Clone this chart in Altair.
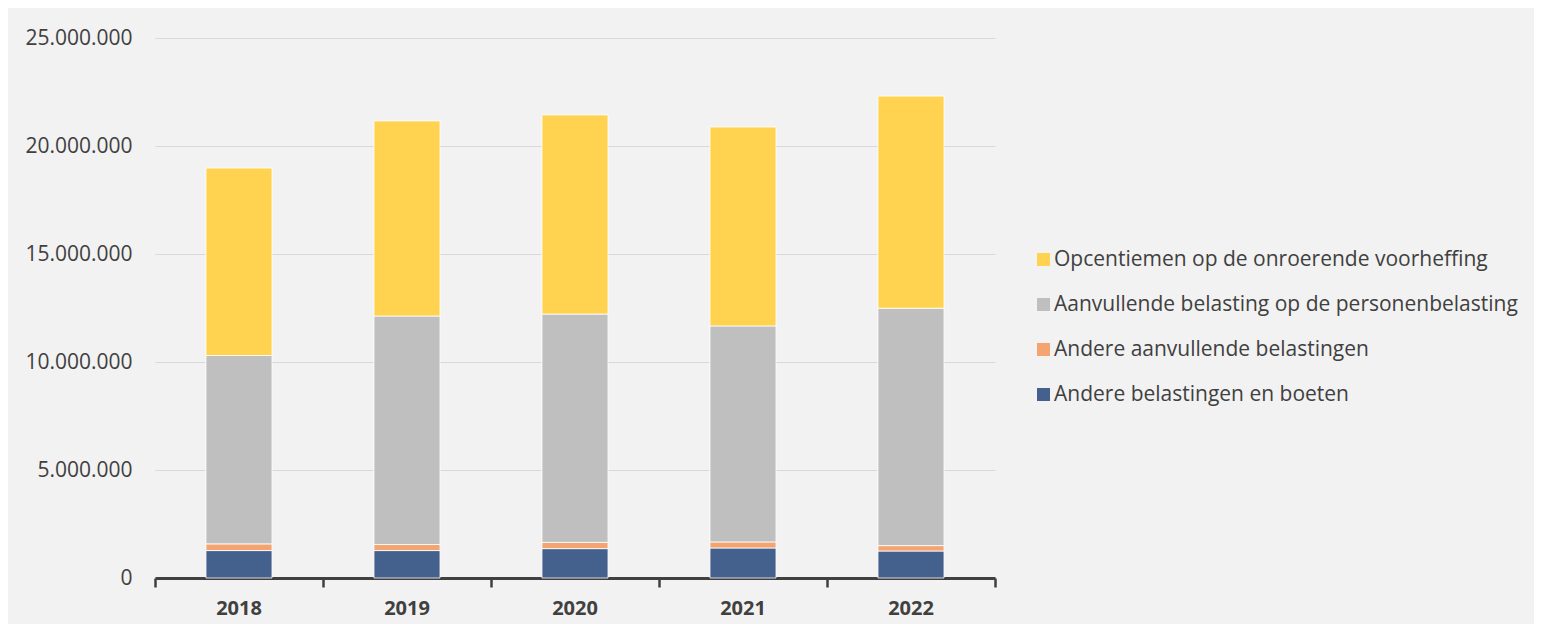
import altair as alt
import pandas as pd

years = ["2018", "2019", "2020", "2021", "2022"]
series = [
    "Andere belastingen en boeten",
    "Andere aanvullende belastingen",
    "Aanvullende belasting op de personenbelasting",
    "Opcentiemen op de onroerende voorheffing",
]
boeten = [1270000, 1270000, 1360000, 1390000, 1250000]
andere_aanv = [310000, 280000, 290000, 280000, 250000]
personen = [8720000, 10580000, 10570000, 10000000, 10990000]
opcentiemen = [8680000, 9030000, 9220000, 9210000, 9820000]
colors = ["#44608C", "#F4A470", "#BFBFBF", "#FFD34F"]
band_edges = [0, 1, 2, 3, 4, 5]

rows = []
for idx, (name, vals) in enumerate(zip(series, [boeten, andere_aanv, personen, opcentiemen])):
    for y, v in zip(years, vals):
        rows.append({"jaar": y, "reeks": name, "waarde": v, "idx": idx})
df = pd.DataFrame(rows)

FONT = "Open Sans"
TXT = "#404040"

bars = alt.Chart(df).mark_bar(stroke="#ffffff", strokeWidth=1, strokeOpacity=0.8).encode(
    x=alt.X("jaar:N", title=None,
            scale=alt.Scale(paddingInner=0.607, paddingOuter=0.3035),
            axis=alt.Axis(labelAngle=0, labelFont=FONT, labelFontWeight="bold",
                          labelFontSize=20, labelColor=TXT, domainColor=TXT,
                          domainWidth=3, ticks=False, labelPadding=20)),
    y=alt.Y("waarde:Q", title=None, stack="zero",
            scale=alt.Scale(domain=[0, 25000000]),
            axis=alt.Axis(values=[0, 5000000, 10000000, 15000000, 20000000, 25000000],
                          labelExpr="replace(replace(format(datum.value, ',.0f'), ',', '.'), ',', '.')",
                          labelFont=FONT, labelFontSize=21, labelColor=TXT,
                          domain=False, ticks=False, labelPadding=23,
                          gridColor="#D9D9D9", gridWidth=1)),
    color=alt.Color("reeks:N", title=None,
                    scale=alt.Scale(domain=series[::-1], range=colors[::-1]),
                    legend=alt.Legend(orient="none", legendX=878, legendY=211,
                                      symbolType="square", symbolSize=169,
                                      symbolStrokeWidth=0,
                                      labelFont=FONT, labelFontSize=21, labelColor=TXT,
                                      rowPadding=23, labelLimit=700, labelOffset=0)),
    order=alt.Order("idx:Q", sort="ascending"),
)

edges = alt.Chart(pd.DataFrame({"grens": band_edges})).mark_rule(opacity=0).encode(
    x=alt.X("grens:Q", title=None,
            scale=alt.Scale(domain=[0, 5], nice=False, zero=False),
            axis=alt.Axis(orient="bottom", values=band_edges, labels=False,
                          domain=False, grid=False, ticks=True, tickSize=9,
                          tickWidth=2.5, tickColor=TXT, tickOpacity=1)),
)

chart = alt.layer(bars, edges).resolve_scale(x="independent").properties(
    width=840, height=540,
    background="#F2F2F2",
    padding={"left": 147, "top": 30, "right": 539, "bottom": 46},
    autosize=alt.AutoSizeParams(type="none"),
).configure_view(stroke=None)

chart.save("out.html", embed_options={"renderer": "svg", "actions": False})
